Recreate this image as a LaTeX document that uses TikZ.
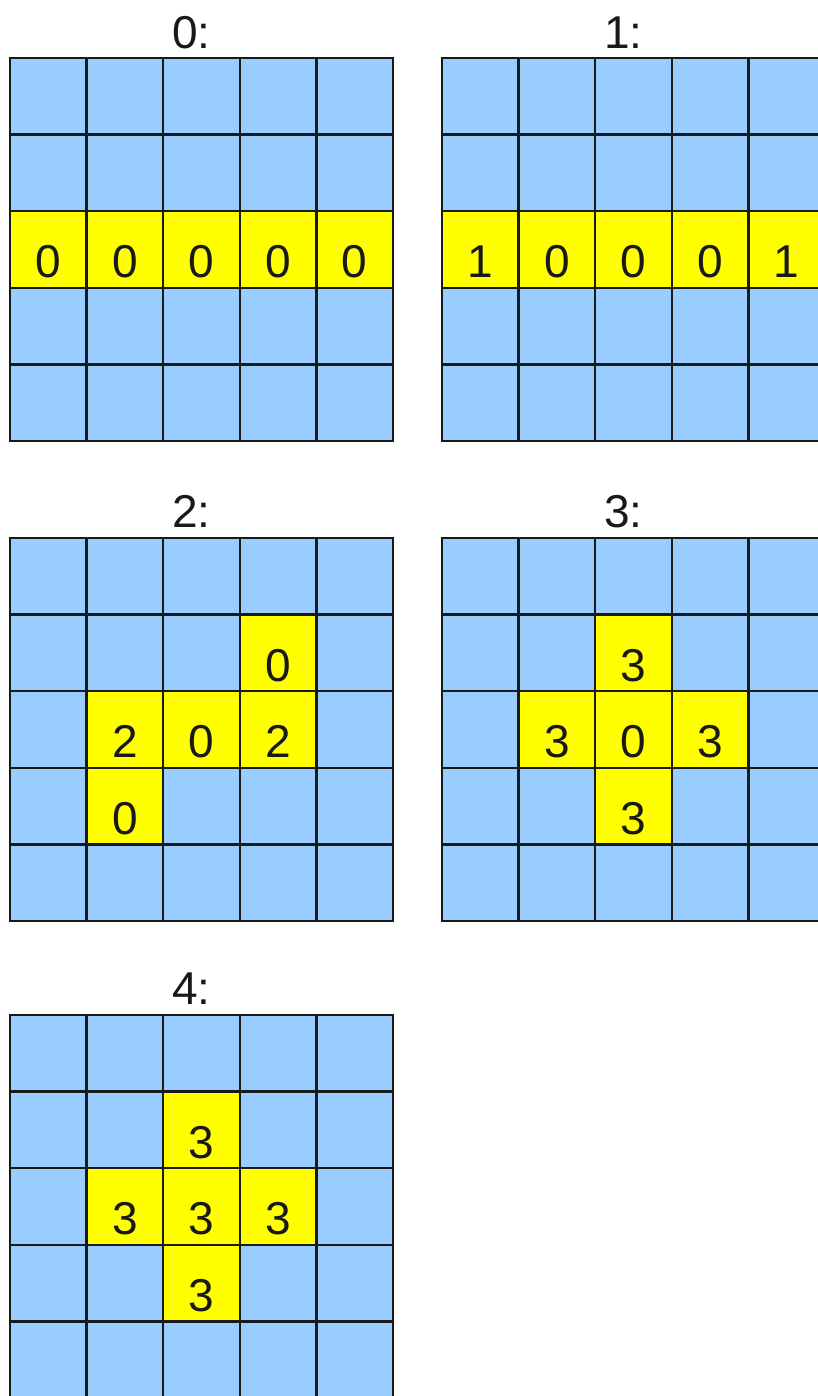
\documentclass[tikz,border=0pt]{standalone}
\usepackage{fontspec}
\setmainfont{Liberation Sans}
\usepackage{xcolor}
\usetikzlibrary{positioning, calc}

\definecolor{skyblue}{HTML}{99CCFF}
\definecolor{hityellow}{HTML}{FFFF00}
\definecolor{gridline}{HTML}{1A1A1A}

\begin{document}
\begin{tikzpicture}[
    blank_cell/.style={
        rectangle,
        draw=gridline,
        fill=skyblue,
        line width=0.9pt,
        minimum size=1cm,
        inner sep=0pt,
        outer sep=0pt,
        anchor=north west
    },
    hit_cell/.style={
        blank_cell,
        fill=hityellow
    },
    cell_num/.style={
        anchor=base,
        inner sep=0pt,
        font=\fontsize{17.1}{20}\selectfont,
        text=black!90
    },
    grid_title/.style={
        cell_num
    }
]

% Frame of the whole picture
\useasboundingbox (0,0) rectangle (10.679,-18.225);
\clip (0,0) rectangle (10.679,-18.225);

% Five boards of 5x5 blue cells
\foreach \n/\bx/\by in {0/0.1305/-0.757, 1/5.770/-0.757, 2/0.1305/-7.023, 3/5.770/-7.023, 4/0.1305/-13.25} {
    \foreach \r in {0,...,4} {
        \foreach \c in {0,...,4} {
            \node[blank_cell] (b\n-\r-\c) at (\bx+\c,\by-\r) {};
        }
    }
    % Board title
    \node[grid_title] (t\n) at ($(b\n-0-2.north)+(-0.13,0.13)$) {\n:};
}

% Yellow cells: board/row/column/value
\foreach \n/\r/\c/\v in {
    0/2/0/0, 0/2/1/0, 0/2/2/0, 0/2/3/0, 0/2/4/0,
    1/2/0/1, 1/2/1/0, 1/2/2/0, 1/2/3/0, 1/2/4/1,
    2/1/3/0, 2/2/1/2, 2/2/2/0, 2/2/3/2, 2/3/1/0,
    3/1/2/3, 3/2/1/3, 3/2/2/0, 3/2/3/3, 3/3/2/3,
    4/1/2/3, 4/2/1/3, 4/2/2/3, 4/2/3/3, 4/3/2/3} {
    \node[hit_cell] (h\n-\r-\c) at (b\n-\r-\c.north west) {};
    \node[cell_num] (v\n-\r-\c) at ($(h\n-\r-\c.south)+(0,0.13)$) {\v};
}

\end{tikzpicture}
\end{document}
